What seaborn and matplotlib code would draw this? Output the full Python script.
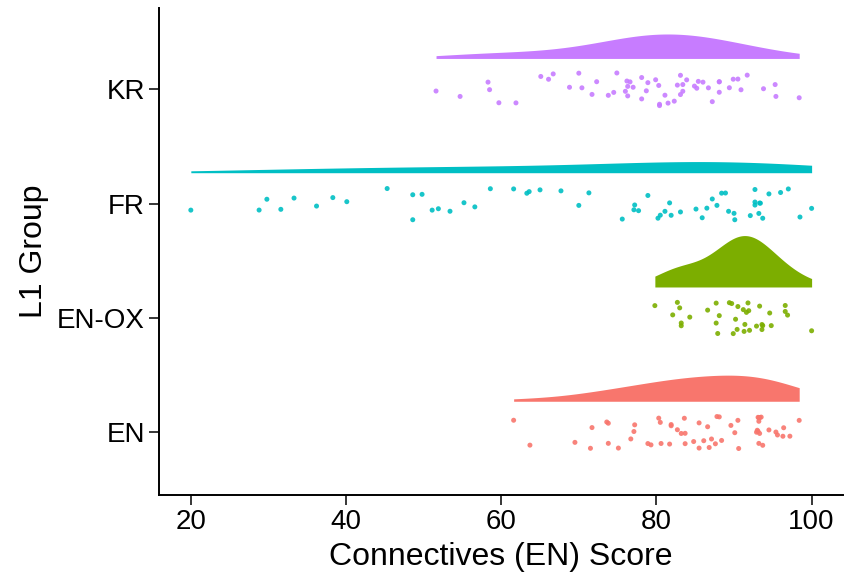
import numpy as np
import pandas as pd
import matplotlib
matplotlib.use("Agg")
import matplotlib.pyplot as plt
import seaborn as sns

groups = ["KR", "FR", "EN-OX", "EN"]
colors = {"EN": "#F8766D", "EN-OX": "#7CAE00", "FR": "#00BFC4", "KR": "#C77CFF"}

kr = [51.6, 54.7, 58.3, 58.5, 59.7, 61.9, 65.1, 66.1, 66.7, 68.8, 70.0, 70.4, 71.7, 72.3,
      73.8, 74.5, 74.9, 76.0, 76.2, 76.3, 76.6, 76.3, 77.0, 78.1, 78.7, 78.1, 78.9, 79.9,
      80.3, 80.4, 80.4, 81.1, 81.5, 82.3, 82.7, 83.1, 83.1, 83.4, 83.4, 83.9, 84.9, 85.2,
      85.4, 86.0, 86.7, 87.2, 88.1, 88.1, 88.1, 89.4, 89.9, 90.5, 90.9, 91.7, 93.8, 95.3,
      95.4, 98.4]
fr = [20.0, 28.8, 29.8, 31.6, 33.3, 36.2, 38.3, 40.1, 45.3, 48.6, 48.6, 49.8, 51.1, 51.9,
      53.4, 55.2, 56.6, 58.6, 61.6, 63.3, 63.6, 65.0, 67.7, 70.0, 71.3, 75.6, 77.1, 77.2,
      77.7, 78.9, 80.2, 80.5, 81.1, 81.7, 81.9, 83.1, 85.1, 85.9, 86.5, 87.2, 87.8, 88.4,
      88.9, 89.3, 90.0, 90.1, 92.1, 92.7, 92.7, 93.4, 93.7, 93.2, 93.3, 92.7, 94.5, 96.0,
      97.0, 98.5, 100.0]
enox = [79.8, 82.1, 82.7, 83.0, 83.2, 83.2, 84.3, 86.6, 87.7, 87.9, 88.1, 87.7, 89.4, 89.7,
        89.9, 90.2, 90.4, 90.5, 91.2, 91.4, 91.3, 91.6, 91.8, 92.0, 91.9, 92.9, 93.3, 93.6,
        93.6, 93.7, 94.6, 94.8, 96.6, 96.6, 96.9, 100.0]
en = [61.6, 63.7, 69.5, 71.5, 71.7, 73.6, 73.8, 73.8, 75.1, 76.7, 77.1, 77.2, 78.9, 79.3,
      80.3, 80.5, 80.6, 81.7, 81.9, 81.9, 82.7, 83.2, 83.6, 83.7, 83.7, 84.8, 85.5, 85.5,
      86.1, 86.6, 86.8, 87.1, 87.6, 87.8, 88.1, 88.4, 89.6, 90.1, 90.5, 90.6, 92.9, 93.2,
      93.3, 93.1, 93.5, 93.7, 93.0, 93.1, 93.2, 93.3, 93.3, 93.2, 94.5, 95.4, 95.6, 96.3,
      96.4, 97.2, 98.4]
data = {"KR": kr, "FR": fr, "EN-OX": enox, "EN": en}

df = pd.DataFrame([(g, v) for g in groups for v in data[g]], columns=["group", "score"])

sns.set_theme(style="ticks")
plt.rcParams["font.family"] = ["Liberation Sans", "DejaVu Sans"]

fig = plt.figure(figsize=(8.44, 5.83), dpi=100)
ax = fig.add_axes([0.1884, 0.151, 0.81, 0.835])

np.random.seed(3)
sns.stripplot(data=df, x="score", y="group", hue="group", order=groups,
              palette=colors, jitter=0.15, size=3.6, linewidth=0, alpha=0.9,
              legend=False, ax=ax)

def kde(vals, grid, adjust=1.5):
    v = np.asarray(vals)
    n = len(v)
    sd = v.std(ddof=1)
    iqr = np.subtract(*np.percentile(v, [75, 25]))
    bw = adjust * 0.9 * min(sd, iqr / 1.34) * n ** -0.2
    d = np.exp(-0.5 * ((grid[:, None] - v[None, :]) / bw) ** 2).sum(1)
    return d / (n * bw * np.sqrt(2 * np.pi))

dens = {}
for g in groups:
    grid = np.linspace(min(data[g]), max(data[g]), 512)
    dens[g] = (grid, kde(data[g], grid))
dmax = max(d.max() for _, d in dens.values())
for i, g in enumerate(groups):
    grid, d = dens[g]
    base = i - 0.27
    ax.fill_between(grid, base, base - d / dmax * 0.45, color=colors[g], linewidth=0)

ax.set_xlim(15.9, 104)
ax.set_ylim(3.55, -0.71)
ax.set_xticks([20, 40, 60, 80, 100])
ax.set_xlabel("Connectives (EN) Score", fontsize=23, color="black", labelpad=5)
ax.set_ylabel("L1 Group", fontsize=23, color="black", labelpad=6)
ax.tick_params(axis="both", labelsize=20, colors="black", length=7, width=1.1, pad=3)
for s in ["left", "bottom"]:
    ax.spines[s].set_color("black")
    ax.spines[s].set_linewidth(1.4)
sns.despine(ax=ax)

fig.savefig("out.png", dpi=100)
